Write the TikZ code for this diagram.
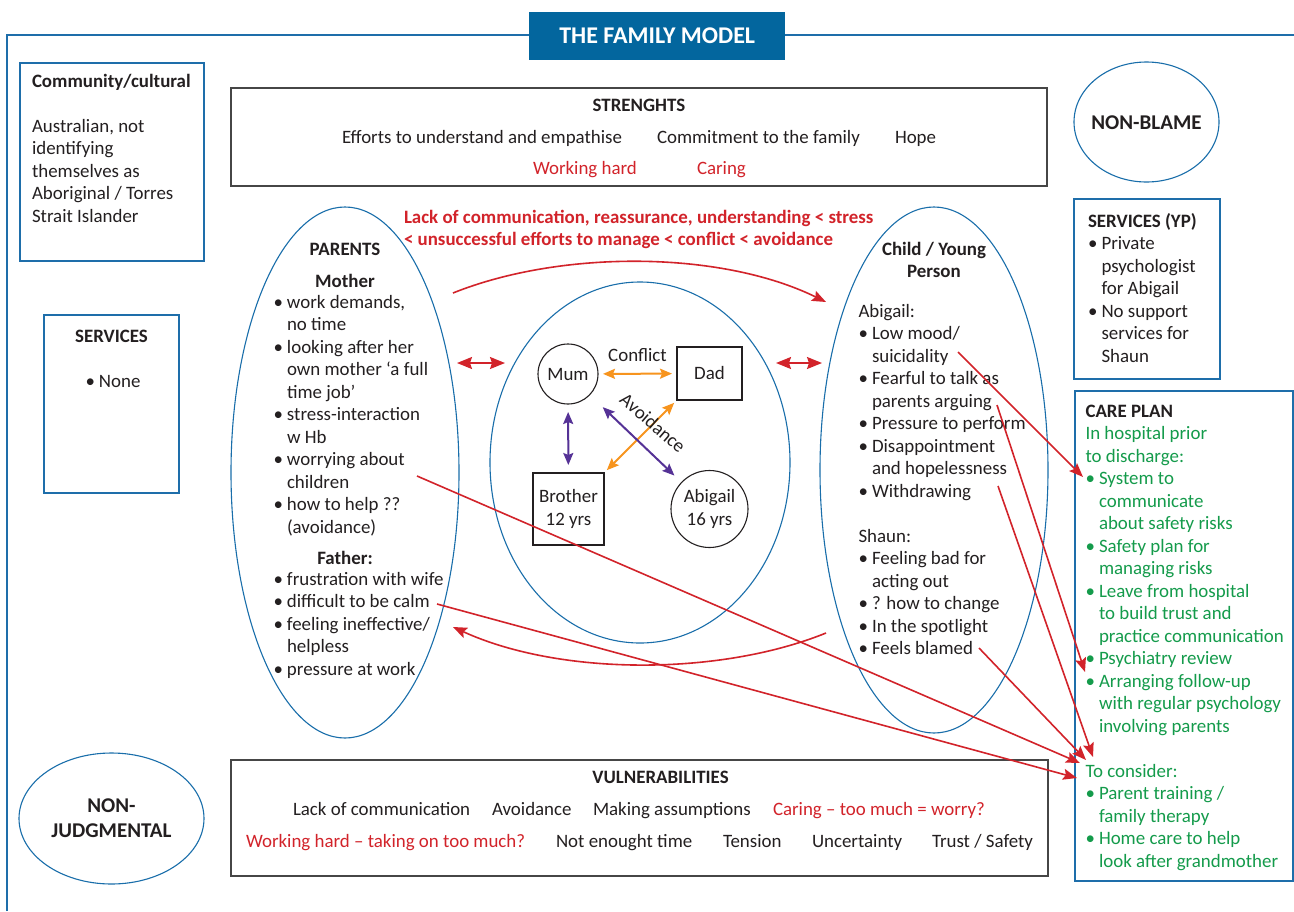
\documentclass[tikz,border=0pt]{standalone}
\usepackage{fontspec}
\setmainfont{Carlito}
\usetikzlibrary{arrows.meta,shapes.geometric}
\definecolor{ink}{RGB}{35,31,32}
\definecolor{tblue}{RGB}{3,102,158}
\definecolor{eblue}{RGB}{25,110,170}
\definecolor{bblue}{RGB}{30,110,170}
\definecolor{cred}{RGB}{210,35,42}
\definecolor{cgreen}{RGB}{20,155,75}
\definecolor{corange}{RGB}{247,148,30}
\definecolor{cpurple}{RGB}{85,50,150}
\definecolor{gboxc}{RGB}{70,70,70}
\newcommand\myb{\makebox[13.5pt][l]{•}}
\newcommand\myi{\hspace*{13.5pt}}
\begin{document}
\begin{tikzpicture}[x=1pt,y=-1pt,
  tx/.style={font=\fontsize{18.9}{22.5}\selectfont, text=ink, inner sep=0pt, outer sep=0pt},
  blk/.style={tx, anchor=north west, align=left},
  hdr/.style={tx, font=\fontsize{18.9}{22.5}\selectfont\bfseries, anchor=base},
  bigh/.style={tx, font=\fontsize{21}{25}\selectfont\bfseries},
  bbx/.style={draw=bblue, line width=1.2pt, rectangle, inner sep=0pt, outer sep=0pt, anchor=north west},
  gbx/.style={draw=gboxc, line width=1.6pt, rectangle, inner sep=0pt, outer sep=0pt, anchor=north west},
  ell/.style={draw=eblue, line width=1.1pt, ellipse, inner sep=0pt, outer sep=0pt},
  fam/.style={tx, draw=ink, line width=1.1pt},
  rarr/.style={draw=cred, line width=1.6pt, -{Stealth[length=14pt,width=11pt,inset=2.5pt]}},
  dblr/.style={draw=cred, line width=1.6pt, {Stealth[length=15pt,width=12pt,inset=2pt]}-{Stealth[length=15pt,width=12pt,inset=2pt]}},
  oarr/.style={draw=corange, line width=2pt, {Stealth[length=12pt,width=10pt,inset=2pt]}-{Stealth[length=12pt,width=10pt,inset=2pt]}},
  parr/.style={draw=cpurple, line width=2pt, {Stealth[length=12pt,width=10pt,inset=2pt]}-{Stealth[length=12pt,width=10pt,inset=2pt]}}
]
\useasboundingbox (0,0) rectangle (1294,911);
\fill[white] (0,0) rectangle (1294,911);

% outer frame
\draw[bblue, line width=1.2pt] (7,911) -- (7,35) -- (1294,35);

% title
\node[fill=tblue, minimum width=256pt, minimum height=48pt, anchor=north west, inner sep=0pt] (title) at (529,12) {};
\node[font=\fontsize{24}{28}\selectfont\bfseries, text=white, inner sep=0pt] (titletext) at (title.center) {THE FAMILY MODEL};

% community / cultural
\node[bbx, minimum width=184pt, minimum height=198pt] (comm) at (20,63) {};
\node[blk] (commtxt) at (32,87-15.75) {\strut\textbf{Community/cultural}\\ \\ Australian, not\\ identifying\\ themselves as\\ Aboriginal / Torres\\ Strait Islander};

% services
\node[bbx, minimum width=135pt, minimum height=178pt] (serv) at (44,315) {};
\node[hdr] (servh) at (111.5,342) {SERVICES};
\node[tx, anchor=base west] (servi) at (85.5,387) {\myb None};

% strengths
\node[gbx, minimum width=816pt, minimum height=98pt] (str) at (231,88) {};
\node[hdr] (strh) at (639,111) {STRENGHTS};
\node[tx, anchor=base west] (s1) at (342,143) {Efforts to understand and empathise};
\node[tx, anchor=base west] (s2) at (657,143) {Commitment to the family};
\node[tx, anchor=base west] (s3) at (895,143) {Hope};
\node[tx, anchor=base west, text=cred] (s4) at (533,174) {Working hard};
\node[tx, anchor=base west, text=cred] (s5) at (697,174) {Caring};

% non-blame
\node[ell, minimum width=145pt, minimum height=120pt] (nonblame) at (1146.5,122) {};
\node[bigh, anchor=base] (nbt) at (1146.5,129.5) {NON-BLAME};

% red header
\node[blk, font=\fontsize{18.9}{22.5}\selectfont\bfseries, text=cred] (hdrred) at (404,223-15.75) {\strut Lack of communication, reassurance, understanding < stress\\< unsuccessful efforts to manage < conflict < avoidance};

% parents
\node[ell, minimum width=228pt, minimum height=531pt] (parents) at (345,472.5) {};
\node[hdr] (parh) at (345,255) {PARENTS};
\node[hdr] (mumh) at (345,287) {Mother};
\node[blk] (mumlist) at (273.5,308-15.75) {\strut\myb work demands,\\ \myi no time\\ \myb looking after her\\ \myi own mother ‘a full\\ \myi time job’\\ \myb stress-interaction\\ \myi w Hb\\ \myb worrying about\\ \myi children\\ \myb how to help ??\\ \myi (avoidance)};
\node[hdr] (dadh) at (345,564) {Father:};
\node[blk] (dadlist) at (273.5,585-15.75) {\strut\myb frustration with wife\\ \myb difficult to be calm\\ \myb feeling ineffective/\\ \myi helpless\\ \myb pressure at work};

% family
\node[ell, minimum width=300pt, minimum height=361pt] (family) at (640,462.5) {};
\node[fam, circle, minimum size=60pt] (mum) at (568,374) {Mum};
\node[fam, rectangle, minimum width=65pt, minimum height=53pt] (dad) at (709.5,373.5) {Dad};
\node[fam, rectangle, minimum width=71pt, minimum height=72pt, align=center] (brother) at (568.5,509) {Brother\\12 yrs};
\node[fam, circle, minimum size=77pt, align=center] (abigail) at (709.5,509) {Abigail\\16 yrs};
\draw[oarr, shorten <=5pt, shorten >=5pt] (mum) -- (dad);
\draw[oarr, shorten <=4pt, shorten >=4pt] (brother.north east) -- (dad.south west);
\draw[parr, shorten <=8pt, shorten >=8pt] (mum) -- (brother);
\draw[parr, shorten <=18pt, shorten >=10pt] (mum) -- (abigail);
\node[tx, anchor=base] (conf) at (637.5,361) {Conflict};
\node[tx, rotate=-41] (avoid) at (653,423) {Avoidance};

% child
\node[ell, minimum width=228pt, minimum height=526pt] (child) at (934,470) {};
\node[hdr, align=center, anchor=north] (childh) at (934,255-15.75) {\strut Child / Young\\Person};
\node[blk] (abilist) at (858.5,317-15.75) {\strut Abigail:\\ \myb Low mood/\\ \myi suicidality\\ \myb Fearful to talk as\\ \myi parents arguing\\ \myb Pressure to perform\\ \myb Disappointment\\ \myi and hopelessness\\ \myb Withdrawing\\ \\ Shaun:\\ \myb Feeling bad for\\ \myi acting out\\ \myb ? how to change\\ \myb In the spotlight\\ \myb Feels blamed};

% services YP
\node[bbx, minimum width=146pt, minimum height=180pt] (servyp) at (1074,199) {};
\node[blk] (ypl) at (1088,227-15.75) {\strut\textbf{SERVICES (YP)}\\ \myb Private\\ \myi psychologist\\ \myi for Abigail\\ \myb No support\\ \myi services for\\ \myi Shaun};

% care plan
\node[bbx, minimum width=218pt, minimum height=490pt] (care) at (1075,391) {};
\node[blk, text=cgreen] (carel) at (1085.5,417-15.75) {\strut\textbf{\color{ink}CARE PLAN}\\ In hospital prior\\ to discharge:\\ \myb System to\\ \myi communicate\\ \myi about safety risks\\ \myb Safety plan for\\ \myi managing risks\\ \myb Leave from hospital\\ \myi to build trust and\\ \myi practice communication\\ \myb Psychiatry review\\ \myb Arranging follow-up\\ \myi with regular psychology\\ \myi involving parents\\ \\ To consider:\\ \myb Parent training /\\ \myi family therapy\\ \myb Home care to help\\ \myi look after grandmother};

% vulnerabilities
\node[gbx, minimum width=817pt, minimum height=116pt] (vul) at (231,760) {};
\node[hdr] (vulh) at (660.5,783) {VULNERABILITIES};
\node[tx, anchor=base west] (v1) at (293,815) {Lack of communication};
\node[tx, anchor=base west] (v2) at (492,815) {Avoidance};
\node[tx, anchor=base west] (v3) at (593,815) {Making assumptions};
\node[tx, anchor=base west, text=cred] (v4) at (773,815) {Caring – too much = worry?};
\node[tx, anchor=base west, text=cred] (v5) at (246,847) {Working hard – taking on too much?};
\node[tx, anchor=base west] (v6) at (556,847) {Not enought time};
\node[tx, anchor=base west] (v7) at (723,847) {Tension};
\node[tx, anchor=base west] (v8) at (812,847) {Uncertainty};
\node[tx, anchor=base west] (v9) at (932,847) {Trust / Safety};

% non-judgmental
\node[ell, minimum width=185pt, minimum height=131pt] (nonjud) at (111.5,818.5) {};
\node[bigh, align=center, anchor=north] (njt) at (111.5,812-17.5) {\strut NON-\\JUDGMENTAL};

% red connectors between ellipses
\coordinate (dl1) at (457,363); \coordinate (dl2) at (505,363);
\coordinate (dr1) at (776,363); \coordinate (dr2) at (822,363);
\draw[dblr] (dl1) -- (dl2);
\draw[dblr] (dr1) -- (dr2);
\coordinate (tc1) at (453,293); \coordinate (tc2) at (826,302);
\draw[rarr] (tc1) .. controls (560,250) and (720,250) .. (tc2);
\coordinate (bc1) at (826,633); \coordinate (bc2) at (453,627);
\draw[rarr] (bc1) .. controls (720,676) and (560,676) .. (bc2);

% red connectors to care plan
\coordinate (f1) at (958,352); \coordinate (t1) at (1083,477);
\coordinate (f2) at (997,405); \coordinate (t2) at (1085,672);
\coordinate (f3) at (998,486); \coordinate (t3) at (1093,757);
\coordinate (f4) at (979,648); \coordinate (t4) at (1086,760);
\coordinate (f5) at (417,476); \coordinate (t5) at (1080,763);
\coordinate (f6) at (437,604); \coordinate (t6) at (1077,778);
\draw[rarr] (f1) -- (t1);
\draw[rarr] (f2) -- (t2);
\draw[rarr] (f3) -- (t3);
\draw[rarr] (f4) -- (t4);
\draw[rarr] (f5) -- (t5);
\draw[rarr] (f6) -- (t6);
\end{tikzpicture}
\end{document}
